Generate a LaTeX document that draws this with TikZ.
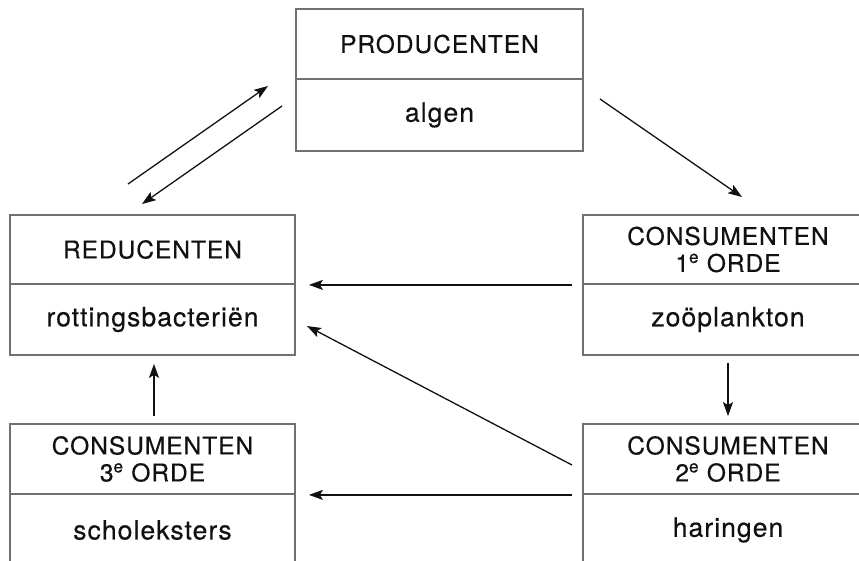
\documentclass[tikz,border=0pt]{standalone}
\usepackage{fontspec}
\setmainfont[LetterSpace=4,FakeBold=0.4]{TeX Gyre Heros}
\usetikzlibrary{arrows.meta,calc}
\definecolor{boxgray}{HTML}{707070}
\definecolor{ink}{HTML}{111111}
\begin{document}
\begin{tikzpicture}[x=1pt,y=-1pt,
  cell/.style={draw=boxgray, line width=1.8pt, inner sep=0pt, align=center,
    text=ink, font=\fontsize{24.5}{27}\selectfont, minimum height=70pt},
  lower/.style={font=\fontsize{26.5}{30}\selectfont},
  leftcell/.style={cell, minimum width=285pt},
  midcell/.style={cell, minimum width=287pt},
  rightcell/.style={cell, minimum width=290pt},
  flow/.style={line width=1.3pt, ink, -{Stealth[length=14pt,width=10pt,inset=3pt]}}]
\useasboundingbox (0,0) rectangle (859,560);
\clip (0,0) rectangle (859,560);
% Producenten
\node[midcell] (Ptop) at (439.5,44) {PRODUCENTEN};
\node[midcell, lower, minimum height=72pt] (Pbot) at (439.5,115) {algen};
% Reducenten
\node[leftcell, minimum height=69pt] (Rtop) at (152.5,249.5) {REDUCENTEN};
\node[leftcell, lower, minimum height=71pt] (Rbot) at (152.5,319.5) {rottingsbacteriën};
% Consumenten 1e orde
\node[rightcell, minimum height=69pt] (C1top) at (728,249.5) {CONSUMENTEN\\1\textsuperscript{e} ORDE};
\node[rightcell, lower, minimum height=71pt] (C1bot) at (728,319.5) {zoöplankton};
% Consumenten 2e orde
\node[rightcell] (C2top) at (728,459) {CONSUMENTEN\\2\textsuperscript{e} ORDE};
\node[rightcell, lower, minimum height=72pt] (C2bot) at (728,530) {haringen};
% Consumenten 3e orde
\node[leftcell] (C3top) at (152.5,459) {CONSUMENTEN\\3\textsuperscript{e} ORDE};
\node[leftcell, lower, minimum height=72pt] (C3bot) at (152.5,530) {scholeksters};
% connector ends
\coordinate (RPs) at (128,184);
\coordinate (RPe) at (268,86);
\coordinate (PRs) at (282,106);
\coordinate (PRe) at (142,204);
\coordinate (PCs) at (600,99);
\coordinate (PCe) at (742,197);
\coordinate (C2Rs) at (572,465);
\coordinate (C2Re) at (307,326);
% arrows
\draw[flow] (RPs) -- (RPe);
\draw[flow] (PRs) -- (PRe);
\draw[flow] (PCs) -- (PCe);
\draw[flow, shorten <=10pt, shorten >=13pt] (C1top.south west) -- (Rtop.south east);
\draw[flow] (C2Rs) -- (C2Re);
\draw[flow, shorten <=10pt, shorten >=13pt] (C2top.south west) -- (C3top.south east);
\draw[flow, shorten <=7pt, shorten >=8pt] ($(C3top.north)+(1.5,0)$) -- ($(Rbot.south)+(1.5,0)$);
\draw[flow, shorten <=7pt, shorten >=7pt] (C1bot.south) -- (C2top.north);
\end{tikzpicture}
\end{document}
